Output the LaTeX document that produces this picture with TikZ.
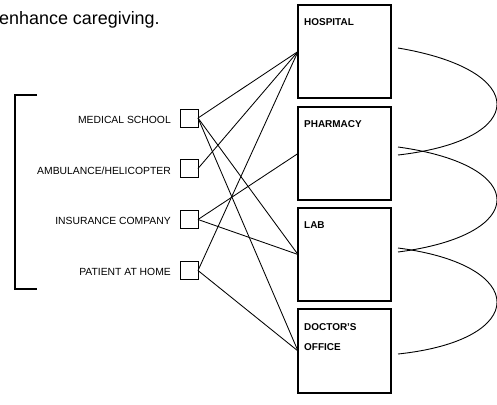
\documentclass[tikz,border=0pt]{standalone}
\usepackage{fontspec}
\setmainfont{Liberation Sans}
\begin{document}
\begin{tikzpicture}[x=1bp,y=-1bp,
  sq/.style={draw, line width=1pt, minimum size=18bp, inner sep=0pt, outer sep=0pt},
  bigbox/.style={draw, line width=1.3pt, minimum width=93bp, minimum height=93bp, inner sep=0pt, outer sep=0pt},
  lbl/.style={font=\fontsize{10.4}{12}\selectfont, anchor=base east, inner sep=0pt},
  boxlbl/.style={font=\bfseries\fontsize{10}{12}\selectfont, anchor=base west, inner sep=0pt},
  conn/.style={line width=0.85pt},
  loop/.style={line width=0.9pt}]
\useasboundingbox (0,0) rectangle (497,404);
\node[font=\fontsize{18}{21}\selectfont, anchor=base west, inner sep=0pt] (title) at (-1,24) {enhance caregiving.};
% bracket
\draw[line width=1.1pt] (37,95) -- (15,95) -- (15,289) -- (37,289);
% small squares
\node[sq] (ms) at (189,118) {};
\node[sq] (ah) at (189,168.5) {};
\node[sq] (ic) at (189,219.5) {};
\node[sq] (pa) at (189,270.5) {};
% left labels
\node[lbl] (lms) at (171,123) {MEDICAL SCHOOL};
\node[lbl] (lah) at (171,174) {AMBULANCE/HELICOPTER};
\node[lbl] (lic) at (171,224) {INSURANCE COMPANY};
\node[lbl] (lpa) at (171,275) {PATIENT AT HOME};
% right boxes
\node[bigbox] (hosp) at (344.5,51.5) {};
\node[bigbox] (phar) at (344.5,153.5) {};
\node[bigbox] (lab) at (344.5,254.5) {};
\node[bigbox, minimum height=84bp] (doc) at (344.5,351) {};
% box labels
\node[boxlbl] (lh) at (304,25) {HOSPITAL};
\node[boxlbl] (lp) at (304,127) {PHARMACY};
\node[boxlbl] (ll) at (304,228) {LAB};
\node[boxlbl] (ld1) at (304,330) {DOCTOR'S};
\node[boxlbl] (ld2) at (304,350) {OFFICE};
% connectors
\draw[conn] (ms.east) -- (hosp.west);
\draw[conn] (ah.east) -- (hosp.west);
\draw[conn] (pa.east) -- (hosp.west);
\draw[conn] (ic.east) -- (phar.west);
\draw[conn] (ms.east) -- (lab.west);
\draw[conn] (ic.east) -- (lab.west);
\draw[conn] (ms.east) -- (doc.west);
\draw[conn] (pa.east) -- (doc.west);
% loops on the right
\coordinate (h1) at (398,48);
\coordinate (p1) at (398,155);
\coordinate (p2) at (398,147);
\coordinate (l1) at (398,252);
\coordinate (l2) at (398,248);
\coordinate (d1) at (398,354);
\draw[loop] (h1) .. controls (530,70) and (530,140) .. (p1);
\draw[loop] (p2) .. controls (530,165) and (530,235) .. (l1);
\draw[loop] (l2) .. controls (530,265) and (530,340) .. (d1);
\end{tikzpicture}
\end{document}
